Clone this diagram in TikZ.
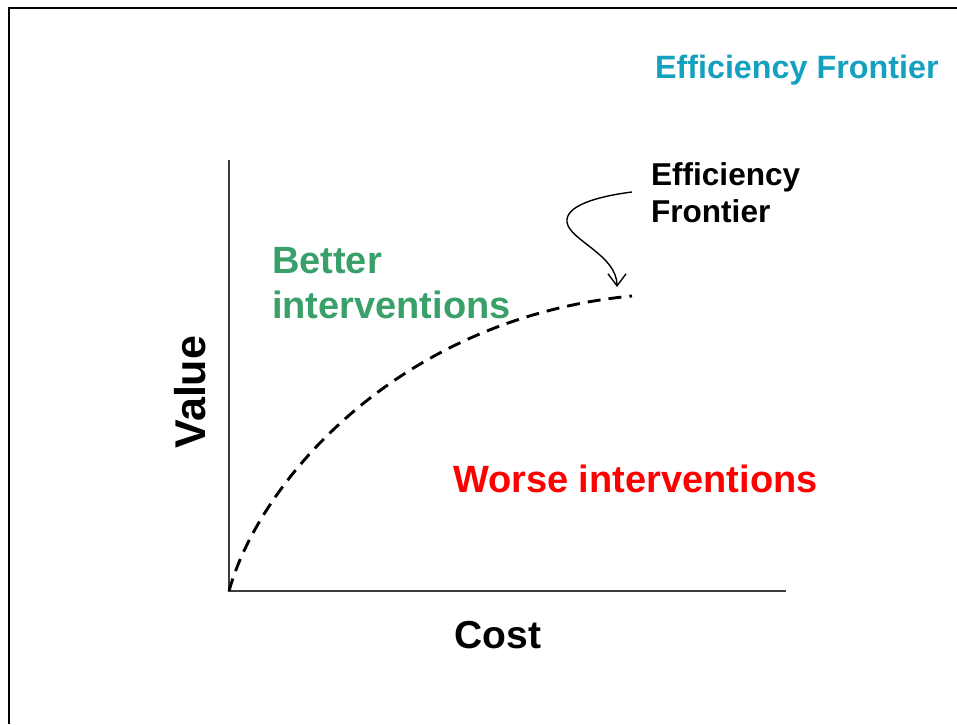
\documentclass[tikz,border=0pt]{standalone}
\usepackage{fontspec}
\setmainfont{Liberation Sans}
\usetikzlibrary{arrows.meta}
\definecolor{teal1}{RGB}{20,160,190}
\definecolor{green1}{RGB}{56,160,104}
\definecolor{red1}{RGB}{255,0,0}
\definecolor{axisgray}{RGB}{60,60,60}
\tikzset{
  lbl/.style={inner sep=0pt, outer sep=0pt, font=\bfseries},
  axisline/.style={draw=axisgray, line width=1.4pt},
  frameline/.style={draw=black, line width=2pt},
  frontier/.style={draw=black, line width=2.9pt, dash pattern=on 13pt off 8pt},
  pointer/.style={draw=black, line width=1.4pt, -{Straight Barb[length=12pt,width=18pt,line width=1.4pt]}}
}
\begin{document}
\begin{tikzpicture}[x=1pt,y=-1pt]
\useasboundingbox (0,0) rectangle (957,724);
% frame
\coordinate (ftr) at (957,8);
\coordinate (ftl) at (9,8);
\coordinate (fbl) at (9,724);
\draw[frameline] (ftr) -- (ftl) -- (fbl);
% axes
\coordinate (o) at (229,591);
\coordinate (ytop) at (229,160);
\coordinate (xend) at (786,591);
\draw[axisline] (ytop) -- (o) -- (xend);
% frontier curve
\coordinate (fend) at (632,296);
\draw[frontier] (o) .. controls (260,480) and (400,318) .. (fend);
% labels
\node[lbl, text=teal1, anchor=base west, font=\bfseries\fontsize{32.3}{38}\selectfont] (title) at (655,78) {Efficiency Frontier};
\node[lbl, text=black, anchor=base west, font=\bfseries\fontsize{31.6}{36}\selectfont] (ef1) at (651,185) {Efficiency};
\node[lbl, text=black, anchor=base west, font=\bfseries\fontsize{31.6}{36}\selectfont] (ef2) at (651,222) {Frontier};
\node[lbl, text=green1, anchor=base west, font=\bfseries\fontsize{38}{44}\selectfont] (b1) at (272,273) {Better};
\node[lbl, text=green1, anchor=base west, font=\bfseries\fontsize{38}{44}\selectfont] (b2) at (272,318) {interventions};
\node[lbl, text=red1, anchor=base west, font=\bfseries\fontsize{38}{44}\selectfont] (w) at (453,492) {Worse interventions};
\node[lbl, text=black, anchor=base, rotate=90, font=\bfseries\fontsize{43}{50}\selectfont] (val) at (205,392) {Value};
\node[lbl, text=black, anchor=base, font=\bfseries\fontsize{39}{46}\selectfont] (cost) at (498,648) {Cost};
% pointer
\coordinate (ps) at (632,192);
\coordinate (pm) at (567,222);
\coordinate (pe) at (617,287);
\draw[pointer] (ps) .. controls (600,196) and (565,205) .. (pm) .. controls (569,240) and (617,255) .. (pe);
\end{tikzpicture}
\end{document}
